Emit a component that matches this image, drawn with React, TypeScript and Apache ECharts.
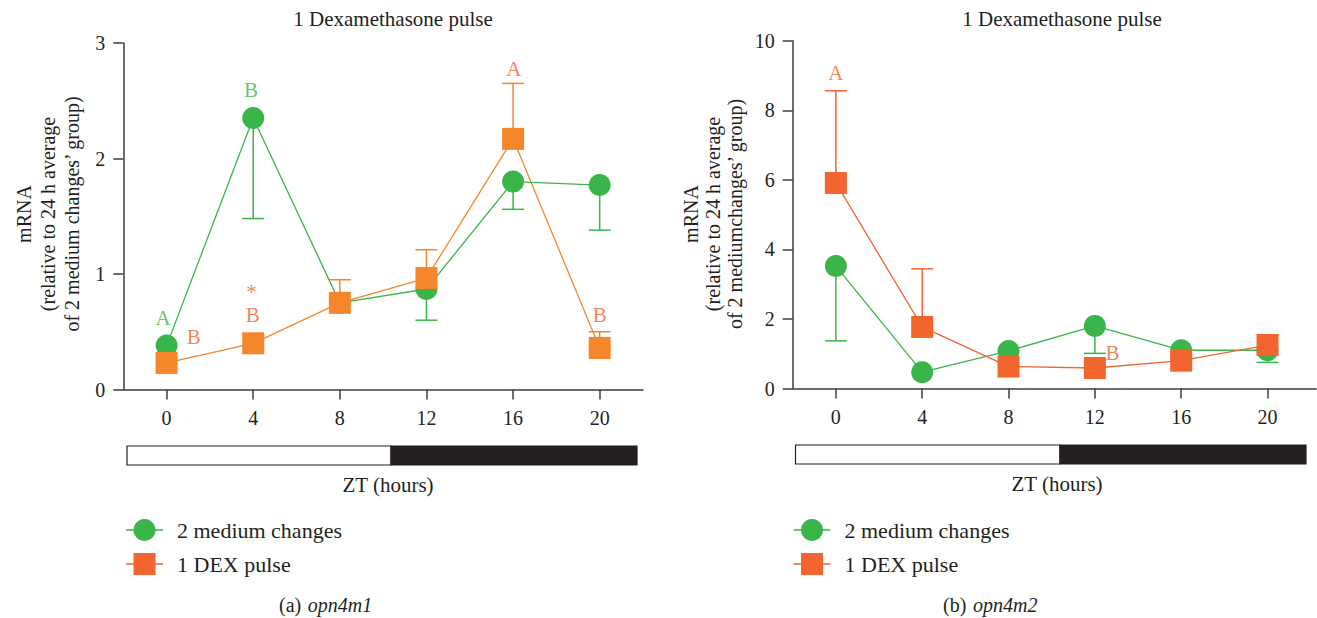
import React, { useEffect, useRef } from 'react';
import * as echarts from 'echarts';

// ---------- data ----------
const hours = [0, 4, 8, 12, 16, 20];
const seriesNames = ['2 medium changes', '1 DEX pulse'];
const panelTitle = '1 Dexamethasone pulse';
const xName = 'ZT (hours)';

// (a) opn4m1
const m1Medium = [0.38, 2.35, 0.75, 0.87, 1.8, 1.77];
const m1MediumErr = [null, 1.48, null, 0.6, 1.56, 1.38];
const m1Dex = [0.23, 0.4, 0.75, 0.965, 2.17, 0.36];
const m1DexErr = [null, null, 0.95, 1.21, 2.65, 0.5];
// [x, y, text, seriesIndex]
const m1Letters: [number, number, string, number][] = [
  [-0.16, 0.615, 'A', 0],
  [3.9, 2.59, 'B', 0],
  [1.25, 0.455, 'B', 1],
  [3.92, 0.845, '*', 1],
  [3.98, 0.643, 'B', 1],
  [16.03, 2.777, 'A', 1],
  [20.0, 0.643, 'B', 1],
];

// (b) opn4m2
const m2Medium = [3.52, 0.47, 1.08, 1.8, 1.1, 1.1];
const m2MediumErr = [1.37, null, null, 1.01, null, 0.75];
const m2Dex = [5.91, 1.77, 0.63, 0.59, 0.8, 1.25];
const m2DexErr = [8.56, 3.44, null, null, null, null];
const m2Letters: [number, number, string, number][] = [
  [0, 9.07, 'A', 1],
  [12.82, 1.02, 'B', 1],
];

// ---------- style ----------
const FONT = '"Liberation Serif", "Times New Roman", serif';
const TEXT = '#231f20';
const AXIS = '#3d3d3d';
const GREEN = '#3ab54a';
const ORANGE_A = '#f5862c';
const ORANGE_B = '#f2652f';
const LEGEND_ORANGE = '#f26530';

function errSeries(gridIdx: number, vals: number[], ends: (number | null)[], color: string, z: number) {
  const data = hours
    .map((h, i) => (ends[i] == null ? null : [h, vals[i], ends[i]]))
    .filter((d) => d !== null);
  return {
    type: 'custom',
    xAxisIndex: gridIdx,
    yAxisIndex: gridIdx,
    z,
    silent: true,
    encode: { x: 0, y: [1, 2] },
    data,
    renderItem: (params: any, api: any) => {
      const x = api.value(0);
      const p0 = api.coord([x, api.value(1)]);
      const p1 = api.coord([x, api.value(2)]);
      const st = { stroke: color, lineWidth: 1.5 };
      return {
        type: 'group',
        children: [
          { type: 'line', shape: { x1: p0[0], y1: p0[1], x2: p1[0], y2: p1[1] }, style: st },
          { type: 'line', shape: { x1: p1[0] - 11, y1: p1[1], x2: p1[0] + 11, y2: p1[1] }, style: st },
        ],
      };
    },
  };
}

function lineSeries(gridIdx: number, name: string, vals: number[], color: string, symbol: string, z: number) {
  return {
    type: 'line',
    name,
    xAxisIndex: gridIdx,
    yAxisIndex: gridIdx,
    z,
    data: hours.map((h, i) => [h, vals[i]]),
    symbol,
    symbolSize: 22,
    itemStyle: { color },
    lineStyle: { color, width: 1.3 },
  };
}

function letterSeries(gridIdx: number, letters: [number, number, string, number][], colors: string[]) {
  return {
    type: 'scatter',
    xAxisIndex: gridIdx,
    yAxisIndex: gridIdx,
    z: 20,
    silent: true,
    symbolSize: 1,
    itemStyle: { color: 'rgba(0,0,0,0)' },
    data: letters.map((l) => ({
      value: [l[0], l[1]],
      label: {
        show: true,
        position: 'inside',
        formatter: l[2],
        color: colors[l[3]],
        fontFamily: FONT,
        fontSize: 21,
      },
    })),
  };
}

function xAxis(gridIdx: number, max: number) {
  return {
    type: 'value',
    gridIndex: gridIdx,
    min: -2,
    max,
    axisLine: { show: true, onZero: false, lineStyle: { color: AXIS, width: 1.5 } },
    axisTick: { show: true, length: 10, customValues: hours, lineStyle: { color: AXIS, width: 1.5 } },
    axisLabel: { customValues: hours, margin: 18, fontSize: 20, fontFamily: FONT, color: TEXT },
    splitLine: { show: false },
  };
}

function yAxis(gridIdx: number, max: number, interval: number) {
  return {
    type: 'value',
    gridIndex: gridIdx,
    min: 0,
    max,
    interval,
    axisLine: { show: true, onZero: false, lineStyle: { color: AXIS, width: 1.5 } },
    axisTick: { show: true, length: 10, lineStyle: { color: AXIS, width: 1.5 } },
    axisLabel: { margin: 18, fontSize: 20, fontFamily: FONT, color: TEXT },
    splitLine: { show: false },
  };
}

function txt(x: number, y: number, text: string, extra: any = {}) {
  return {
    type: 'text',
    x,
    y,
    silent: true,
    style: {
      text,
      fill: TEXT,
      font: `21px ${FONT}`,
      textAlign: 'center',
      textVerticalAlign: 'middle',
      ...extra,
    },
  };
}

function legendItems(x0: number, y1: number, y2: number, orange: string) {
  const cx = x0 + 18.5;
  return [
    { type: 'line', silent: true, shape: { x1: x0, y1, x2: x0 + 37, y2: y1 }, style: { stroke: GREEN, lineWidth: 1.3 } },
    { type: 'circle', silent: true, shape: { cx, cy: y1, r: 11 }, style: { fill: GREEN } },
    txt(x0 + 51, y1, seriesNames[0], { textAlign: 'left', font: `22px ${FONT}` }),
    { type: 'line', silent: true, shape: { x1: x0, y1: y2, x2: x0 + 37, y2 }, style: { stroke: orange, lineWidth: 1.3 } },
    { type: 'rect', silent: true, shape: { x: cx - 11, y: y2 - 11, width: 22, height: 22 }, style: { fill: orange } },
    txt(x0 + 51, y2, seriesNames[1], { textAlign: 'left', font: `22px ${FONT}` }),
  ];
}

function lightBar(x: number, xSplit: number, xEnd: number, y: number) {
  return [
    { type: 'rect', silent: true, shape: { x, y, width: xSplit - x, height: 19 }, style: { fill: '#ffffff', stroke: TEXT, lineWidth: 1.2 } },
    { type: 'rect', silent: true, shape: { x: xSplit, y, width: xEnd - xSplit, height: 19 }, style: { fill: TEXT, stroke: TEXT, lineWidth: 1.2 } },
  ];
}

function caption(x: number, y: number, tag: string, gene: string) {
  return {
    type: 'text',
    x,
    y,
    silent: true,
    style: {
      text: `{n|${tag}}  {i|${gene}}`,
      textVerticalAlign: 'middle',
      rich: {
        n: { fontFamily: FONT, fontSize: 20, fill: TEXT, color: TEXT },
        i: { fontFamily: FONT, fontSize: 20, fontStyle: 'italic', fill: TEXT, color: TEXT },
      },
    },
  };
}

function yTitle(x: number, y: number, text: string, lineHeight: number) {
  const t: any = txt(x, y, text, { lineHeight, font: `20px ${FONT}` });
  t.rotation = Math.PI / 2;
  return t;
}

export default function App() {
  const ref = useRef<HTMLDivElement>(null);
  useEffect(() => {
    if (!ref.current) return;
    const chart = echarts.init(ref.current, null, { renderer: 'svg' });
    const option: any = {
      animation: false,
      backgroundColor: '#ffffff',
      grid: [
        { left: 123.3, top: 43, width: 519.7, height: 346.5 },
        { left: 792.7, top: 40.7, width: 523.4, height: 347.8 },
      ],
      xAxis: [xAxis(0, 22), xAxis(1, 22.25)],
      yAxis: [yAxis(0, 3, 1), yAxis(1, 10, 2)],
      series: [
        errSeries(0, m1Medium, m1MediumErr, GREEN, 2),
        errSeries(0, m1Dex, m1DexErr, ORANGE_A, 3),
        lineSeries(0, seriesNames[0], m1Medium, GREEN, 'circle', 5),
        lineSeries(0, seriesNames[1], m1Dex, ORANGE_A, 'rect', 6),
        letterSeries(0, m1Letters, [GREEN, ORANGE_B]),
        errSeries(1, m2Medium, m2MediumErr, GREEN, 2),
        errSeries(1, m2Dex, m2DexErr, ORANGE_B, 3),
        lineSeries(1, seriesNames[0], m2Medium, GREEN, 'circle', 5),
        lineSeries(1, seriesNames[1], m2Dex, ORANGE_B, 'rect', 6),
        letterSeries(1, m2Letters, [GREEN, ORANGE_B]),
      ],
      graphic: {
        elements: [
          txt(393, 19, panelTitle),
          txt(1062, 19, panelTitle),
          yTitle(48, 214, 'mRNA\n(relative to 24 h average\nof 2 medium changes\u2019 group)', 24),
          yTitle(713, 214, 'mRNA\n(relative to 24 h average\nof 2 mediumchanges\u2019 group)', 22),
          ...lightBar(127, 391, 637, 446),
          ...lightBar(795.5, 1060, 1306, 445),
          txt(388, 485, xName),
          txt(1057, 484, xName),
          ...legendItems(126, 530, 564, LEGEND_ORANGE),
          ...legendItems(793.5, 530, 564, LEGEND_ORANGE),
          caption(279, 605, '(a)', 'opn4m1'),
          caption(943, 605, '(b)', 'opn4m2'),
        ],
      },
    };
    chart.setOption(option);
    return () => chart.dispose();
  }, []);
  return (
    <div
      ref={ref}
      style={{ position: 'absolute', left: 0, top: 0, width: 1317, height: 618, background: '#fff' }}
    />
  );
}
